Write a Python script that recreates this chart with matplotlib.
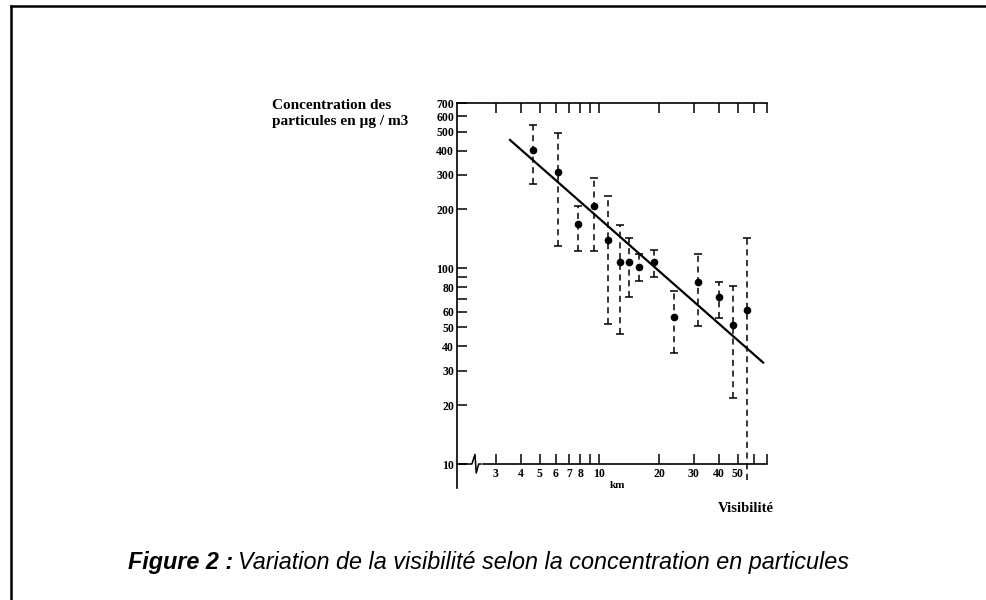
import matplotlib
matplotlib.use('Agg')
import matplotlib.pyplot as plt
import matplotlib.transforms as mtransforms
from matplotlib.ticker import FixedLocator, FixedFormatter, NullLocator

# visibility (km), particle concentration (ug/m3), error bar ends
vis = [4.63, 6.19, 7.81, 9.41, 11.07, 12.7, 14.1, 15.9, 18.9, 23.7, 31.4, 40.0, 47.4, 55.6]
conc = [401, 312, 168, 209, 140, 108, 108, 102, 108, 56.6, 85.5, 71.7, 51.4, 61.3]
conc_hi = [541, 494, 209, 289, 233, 166, 143, 119, 124, 76.9, 119, 85.5, 81.3, 142.6]
conc_lo = [269, 130, 122, 123, 51.8, 46.2, 71.7, 86.5, 90.7, 36.8, 50.8, 55.6, 21.7, 8.3]

# regression line end points
fit_x = [3.53, 67.1]
fit_y = [453, 33.0]

y_ticks = [10, 20, 30, 40, 50, 60, 70, 80, 90, 100, 200, 300, 400, 500, 600, 700]
y_labels = ['10', '20', '30', '40', '50', '60', '', '80', '', '100', '200', '300', '400', '500', '600', '700']
x_ticks = [3, 4, 5, 6, 7, 8, 9, 10, 20, 30, 40, 50, 60, 70]
x_labels = ['3', '4', '5', '6', '7', '8', '', '10', '20', '30', '40', '50', '', '']

serif = 'Liberation Serif'
sans = 'Liberation Sans'

fig = plt.figure(figsize=(9.87, 6.0), dpi=100)
ax = fig.add_axes([457/987, 1-488/600, 310/987, (488-103)/600])
ax.set_xscale('log')
ax.set_yscale('log')
ax.set_xlim(1.906, 70.2)
ax.set_ylim(7.54, 700)

err_lo = [c - l for c, l in zip(conc, conc_lo)]
err_hi = [h - c for c, h in zip(conc, conc_hi)]
eb = ax.errorbar(vis, conc, yerr=[err_lo, err_hi], fmt='o', color='black', ms=4.5,
                 elinewidth=1.1, capsize=3, capthick=1.1, zorder=3)
eb[2][0].set_linestyle((0, (4, 3)))
# last bar runs off the bottom with no cap
eb[1][0].set_data(vis[:-1], conc_lo[:-1])
ax.plot(fit_x, fit_y, color='black', lw=1.6, zorder=4)

ax.spines['right'].set_visible(False)
ax.spines['bottom'].set_position(('data', 10))
for s in ['left', 'bottom', 'top']:
    ax.spines[s].set_linewidth(1.2)

ax.yaxis.set_major_locator(FixedLocator(y_ticks))
ax.yaxis.set_major_formatter(FixedFormatter(y_labels))
ax.yaxis.set_minor_locator(NullLocator())
ax.xaxis.set_major_locator(FixedLocator(x_ticks))
ax.xaxis.set_major_formatter(FixedFormatter(x_labels))
ax.xaxis.set_minor_locator(NullLocator())
ax.tick_params(axis='y', direction='in', length=7, width=1.1, pad=2, labelsize=8.5)
ax.tick_params(axis='x', direction='in', length=7, width=1.1, pad=3, labelsize=8.5, top=True)
for lab in ax.get_xticklabels() + ax.get_yticklabels():
    lab.set_fontfamily(serif)
    lab.set_fontweight('bold')

# axis break on the x axis
bt = mtransforms.blended_transform_factory(ax.transAxes, ax.transData)
ax.plot([0.042, 0.075], [10, 10], color='white', lw=2.5, transform=bt, clip_on=False, zorder=5)
ax.plot([0.040, 0.048, 0.058, 0.062, 0.070, 0.077], [10, 10, 11.2, 9.0, 10, 10],
        color='black', lw=1.1, transform=bt, clip_on=False, zorder=6)

fig.text(272/987, 1-99/600, 'Concentration des\nparticules en µg / m3', ha='left', va='top',
         family=serif, weight='bold', fontsize=11, linespacing=1.3)
fig.text(746/987, 1-508/600, 'Visibilité', ha='center', va='center',
         family=serif, weight='bold', fontsize=10.5)
fig.text(617/987, 1-485/600, 'km', ha='center', va='center',
         family=serif, weight='bold', fontsize=8)

# caption
t1 = fig.text(128/987, 1-562/600, 'Figure 2 :', ha='left', va='center',
              family=sans, weight='bold', style='italic', fontsize=16.8)
r = fig.canvas.get_renderer()
bb = t1.get_window_extent(renderer=r)
fig.text((bb.x1 + 5)/987, 1-562/600, 'Variation de la visibilité selon la concentration en particules',
         ha='left', va='center', family=sans, style='italic', fontsize=16.8)

# page border
fig.add_artist(plt.Line2D([11/987, 11/987], [0, 1-6/600], color='black', lw=1.8, transform=fig.transFigure))
fig.add_artist(plt.Line2D([11/987, 1], [1-6/600, 1-6/600], color='black', lw=1.8, transform=fig.transFigure))

fig.savefig('out.png', dpi=100)
